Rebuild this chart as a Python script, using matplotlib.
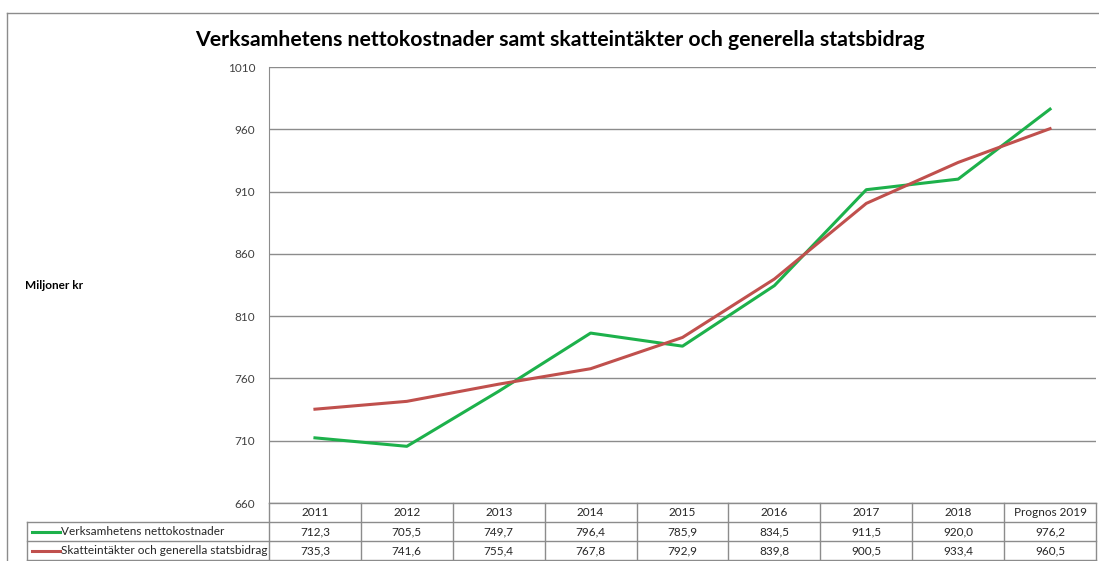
import matplotlib
matplotlib.use("Agg")
import matplotlib.pyplot as plt
from matplotlib.lines import Line2D

plt.rcParams['font.family'] = ['Lato', 'DejaVu Sans']

years = ["2011", "2012", "2013", "2014", "2015", "2016", "2017", "2018", "Prognos 2019"]
netto = [712.3, 705.5, 749.7, 796.4, 785.9, 834.5, 911.5, 920.0, 976.2]
skatt = [735.3, 741.6, 755.4, 767.8, 792.9, 839.8, 900.5, 933.4, 960.5]
series_names = ["Verksamhetens nettokostnader", "Skatteintäkter och generella statsbidrag"]
series_colors = ["#1db14b", "#c0504d"]
yticks = [660, 710, 760, 810, 860, 910, 960, 1010]

W, H = 1099, 561
fig = plt.figure(figsize=(W / 100, H / 100), dpi=100)

# plot area in pixels
left, right, top, bottom = 269, 1096, 67, 503
ax = fig.add_axes([left / W, 1 - bottom / H, (right - left) / W, (bottom - top) / H])
x = list(range(len(years)))
for vals, c in zip([netto, skatt], series_colors):
    ax.plot(x, vals, color=c, lw=2.2, zorder=3)
ax.set_xlim(-0.5, len(years) - 0.5)
ax.set_ylim(660, 1010)
ax.set_yticks(yticks)
ax.set_yticklabels([str(v) for v in yticks], fontsize=8.5, color="#404040")
ax.yaxis.grid(True, color="#8c8c8c", lw=1)
ax.set_xticks([])
ax.tick_params(axis="y", length=0, pad=10)
for s in ["top", "right", "bottom"]:
    ax.spines[s].set_visible(False)
ax.spines["left"].set_color("#8c8c8c")

# overlay in pixel coordinates for border, title and data table
ov = fig.add_axes([0, 0, 1, 1], zorder=-1)
ov.set_xlim(0, W)
ov.set_ylim(H, 0)
ov.axis("off")
ov2 = fig.add_axes([0, 0, 1, 1])
ov2.set_xlim(0, W)
ov2.set_ylim(H, 0)
ov2.axis("off")
ov2.patch.set_alpha(0)

ov.plot([7, 7], [13, H], color="#8c8c8c", lw=1)
ov.plot([7, W], [13, 13], color="#8c8c8c", lw=1)

ov2.text(560, 40, "Verksamhetens nettokostnader samt skatteintäkter och generella statsbidrag",
         ha="center", va="center", fontsize=15.3, fontweight="bold", color="black")
ov2.text(25, 285, "Miljoner kr", ha="left", va="center", fontsize=8.5,
         fontweight="bold", color="black")

cw = (right - left) / len(years)
rows = [503, 522, 541, 560]
grey = "#8c8c8c"
# horizontal table lines
ov2.plot([left, right], [rows[0], rows[0]], color=grey, lw=1)
for yy in rows[1:]:
    ov2.plot([27, right], [yy, yy], color=grey, lw=1)
# vertical table lines
ov2.plot([27, 27], [rows[1], H], color=grey, lw=1)
for i in range(len(years) + 1):
    ov2.plot([left + i * cw] * 2, [rows[0], H], color=grey, lw=1)

for i, y in enumerate(years):
    cx = left + (i + 0.5) * cw
    ov2.text(cx, (rows[0] + rows[1]) / 2, y, ha="center", va="center", fontsize=8.5, color="#262626")
    for r, vals in enumerate([netto, skatt]):
        ov2.text(cx, (rows[r + 1] + rows[r + 2]) / 2, f"{vals[i]:.1f}".replace(".", ","),
                 ha="center", va="center", fontsize=8.5, color="#262626")

for r, (name, c) in enumerate(zip(series_names, series_colors)):
    yc = (rows[r + 1] + rows[r + 2]) / 2
    ov2.add_line(Line2D([32, 60], [yc, yc], color=c, lw=2.2))
    ov2.text(61, yc, name, ha="left", va="center", fontsize=8.5, color="#262626")

fig.savefig("out.png", dpi=100)
